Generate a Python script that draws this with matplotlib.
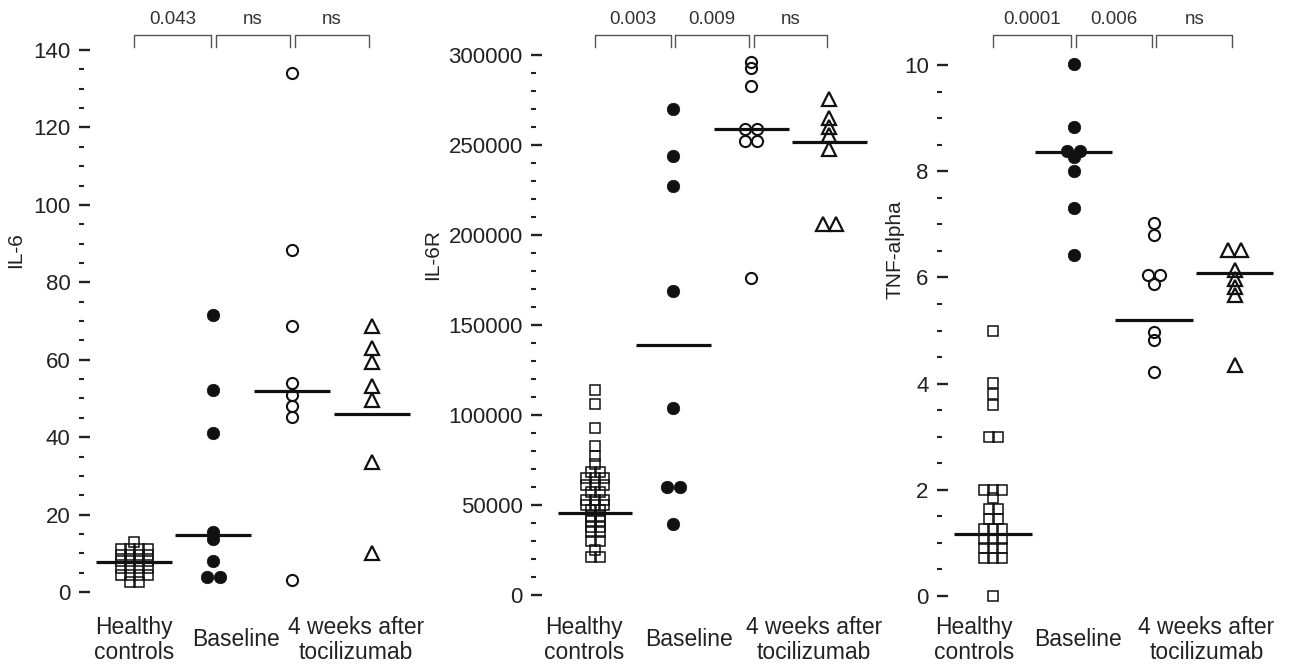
import numpy as np
import matplotlib
matplotlib.use("Agg")
import matplotlib.pyplot as plt
from matplotlib.lines import Line2D
from matplotlib.ticker import MultipleLocator, StrMethodFormatter
from matplotlib.transforms import blended_transform_factory

# ---- data ----
GROUP_LABELS = ["Healthy\ncontrols", "Baseline", "4 weeks after\ntocilizumab"]

il6_healthy = [12.9, 11.2, 11.2, 11.2, 11.2, 9.6, 9.6, 9.6, 9.6, 8.0, 8.0, 8.0, 8.0,
               6.2, 6.2, 6.2, 6.2, 4.4, 4.4, 4.4, 4.4, 2.7, 2.7]
il6_baseline = [71.5, 52.3, 41.0, 15.5, 13.8, 7.9, 3.8, 3.8]
il6_week4 = [134.0, 88.3, 68.7, 53.9, 51.0, 48.0, 45.2, 3.1]
il6_tcz = [68.8, 62.9, 59.3, 53.2, 49.5, 33.7, 10.1]
il6_lines = [7.7, 14.6, 51.9, 45.9]
il6_p = ["0.043", "ns", "ns"]

il6r_healthy = [114000, 106000, 93000, 83000, 77000, 73000, 68500, 68500, 65000, 65000, 65000,
                61000, 61000, 61000, 57000, 57000, 53000, 53000, 53000, 50000, 50000, 50000,
                47000, 47000, 44000, 44000, 41000, 41000, 38000, 38000, 35000, 35000,
                30000, 30000, 25000, 21000, 21000]
il6r_baseline = [270000, 244000, 227000, 169000, 104000, 60000, 60000, 39500]
il6r_week4 = [296000, 293000, 283000, 259000, 259000, 252000, 252000, 176000]
il6r_tcz = [275500, 265000, 260000, 255500, 248000, 206000, 206000]
il6r_lines = [45500, 138700, 259000, 251500]
il6r_p = ["0.003", "0.009", "ns"]

tnf_healthy = [5.0, 4.02, 3.8, 3.6, 3.0, 3.0, 2.0, 2.0, 2.0, 1.85, 1.63, 1.63, 1.45, 1.45,
               1.27, 1.27, 1.27, 1.08, 1.08, 1.08, 0.9, 0.9, 0.9, 0.72, 0.72, 0.72, 0.0]
tnf_baseline = [10.02, 8.83, 8.38, 8.38, 8.26, 8.0, 7.3, 6.42]
tnf_week4 = [7.02, 6.8, 6.04, 6.04, 5.88, 4.98, 4.82, 4.22]
tnf_tcz = [6.52, 6.52, 6.14, 5.97, 5.82, 5.67, 4.35]
tnf_lines = [1.16, 8.36, 5.2, 6.08]
tnf_p = ["0.0001", "0.006", "ns"]

W, H = 1293, 670
plt.rcParams["font.family"] = ["Liberation Sans", "DejaVu Sans"]
INK = "#111111"
TXT = "#222222"

# marker look for the four columns + sideways spacing (px) for ties
STYLES = [
    (dict(marker="s", ms=7.3, mfc="none", mec=INK, mew=1.1), 9.0),
    (dict(marker="o", ms=9.0, mfc=INK, mec=INK, mew=0.5), 13.0),
    (dict(marker="o", ms=8.0, mfc="none", mec=INK, mew=1.5), 12.0),
    (dict(marker="^", ms=10.0, mfc="none", mec=INK, mew=1.6), 13.0),
]

fig = plt.figure(figsize=(W / 100, H / 100), dpi=100)


def fy(px):
    return 1 - px / H


def make_axes(spine_px, g0_px, step_px, y0_px, ytop_px, ytop_val):
    xmin = -(g0_px - spine_px) / step_px
    xmax = 3.55
    ax = fig.add_axes([spine_px / W, fy(y0_px),
                       (xmax - xmin) * step_px / W, (y0_px - ytop_px) / H])
    ax.set_xlim(xmin, xmax)
    ax.set_ylim(0, ytop_val)
    return ax


def swarm_x(ax, x0, values, spacing_px, row_px=4.5):
    """Put near-equal values side by side, like a Prism dot plot."""
    vals = np.asarray(values, dtype=float)
    py = ax.transData.transform(np.column_stack([np.full(len(vals), x0), vals]))[:, 1]
    px_unit = ax.transData.transform([[1, 0]])[0, 0] - ax.transData.transform([[0, 0]])[0, 0]
    rows = []
    for i in np.argsort(-py, kind="stable"):
        if rows and abs(py[rows[-1][0]] - py[i]) < row_px:
            rows[-1].append(i)
        else:
            rows.append([i])
    xs = np.full(len(vals), float(x0))
    for r in rows:
        for k, i in enumerate(r):
            xs[i] += (k - (len(r) - 1) / 2) * spacing_px / px_unit
    return xs


panels = [
    dict(groups=[il6_healthy, il6_baseline, il6_week4, il6_tcz], lines=il6_lines, p=il6_p,
         ylabel="IL-6", ylabel_xy=(16, 250), geo=(79, 134, 79.2, 592, 50, 140),
         major=20, minor=5, label_x=[0, 1.29, 2.8]),
    dict(groups=[il6r_healthy, il6r_baseline, il6r_week4, il6r_tcz], lines=il6r_lines, p=il6r_p,
         ylabel="IL-6R", ylabel_xy=(433, 255), geo=(531, 595, 78.1, 595, 55, 300000),
         major=50000, minor=10000, label_x=[-0.14, 1.2, 2.8]),
    dict(groups=[tnf_healthy, tnf_baseline, tnf_week4, tnf_tcz], lines=tnf_lines, p=tnf_p,
         ylabel="TNF-alpha", ylabel_xy=(895, 250), geo=(937, 993, 80.5, 596, 65, 10),
         major=2, minor=0.5, label_x=[-0.24, 1.06, 2.65]),
]

for pn in panels:
    ax = make_axes(*pn["geo"])
    for s in ax.spines.values():
        s.set_visible(False)
    ax.set_xticks([])
    ax.yaxis.set_major_locator(MultipleLocator(pn["major"]))
    ax.yaxis.set_minor_locator(MultipleLocator(pn["minor"]))
    ax.yaxis.set_major_formatter(StrMethodFormatter("{x:.0f}"))
    ax.tick_params(axis="y", which="major", direction="in", length=8, width=1.7,
                   color=TXT, pad=6, labelsize=16, labelcolor=TXT)
    ax.tick_params(axis="y", which="minor", direction="in", length=3.6, width=1.5, color=TXT)

    for gi, (vals, (style, spacing)) in enumerate(zip(pn["groups"], STYLES)):
        xs = swarm_x(ax, gi, vals, spacing)
        ax.plot(xs, vals, linestyle="none", clip_on=False, zorder=3, **style)
    xg = np.arange(len(pn["lines"]))
    ax.hlines(pn["lines"], xg - 0.48, xg + 0.48, color=INK, lw=2.3, zorder=4)

    trans = blended_transform_factory(ax.transData, fig.transFigure)
    for i, lab in enumerate(pn["p"]):
        xa = i + (0.03 if i > 0 else 0.0)
        xb = i + 1 - 0.03
        ax.add_line(Line2D([xa, xa, xb, xb], [fy(46.5), fy(34.5), fy(34.5), fy(46.5)],
                           transform=trans, color="#555555", lw=1.0, clip_on=False))
        ax.text((xa + xb) / 2, fy(19), lab, transform=trans, ha="center", va="center",
                fontsize=13.5, color="#333333")

    for x, lab in zip(pn["label_x"], GROUP_LABELS):
        ax.text(x, fy(640), lab, transform=trans, ha="center", va="center",
                fontsize=16.5, color=TXT, linespacing=1.1)

    lx, ly = pn["ylabel_xy"]
    fig.text(lx / W, fy(ly), pn["ylabel"], rotation=90, ha="center", va="center",
             fontsize=15, color=TXT)

fig.savefig("out.png", dpi=100)
